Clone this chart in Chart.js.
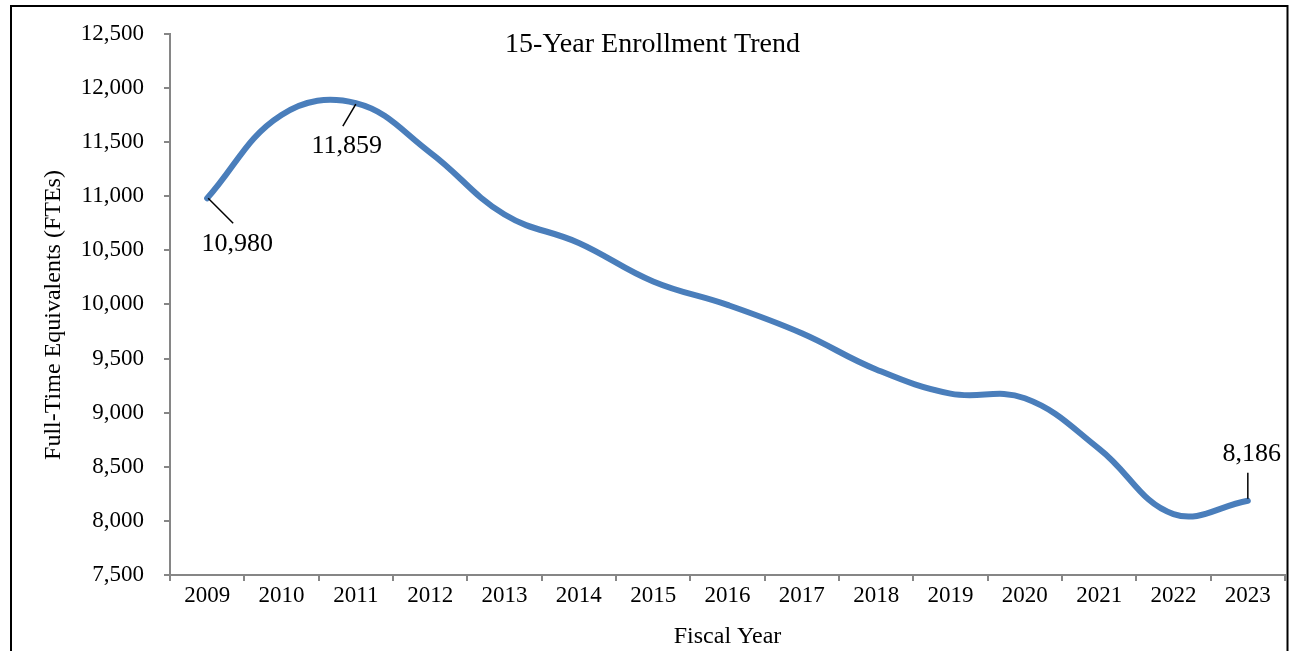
<!DOCTYPE html>
<html>
<head>
<meta charset="utf-8">
<script src="https://cdn.jsdelivr.net/npm/chart.js@4.4.1/dist/chart.umd.min.js"></script>
<style>
html,body{margin:0;padding:0;background:#fff;overflow:hidden}
#wrap{width:1291px;height:651px;position:relative}
canvas{display:block}
</style>
</head>
<body>
<div id="wrap"><canvas id="c" width="1291" height="651"></canvas></div>
<script>
// ---- data ----
const years = ['2009','2010','2011','2012','2013','2014','2015','2016','2017','2018','2019','2020','2021','2022','2023'];
const fte = [10980, 11750, 11859, 11403, 10830, 10568, 10212, 9995, 9733, 9399, 9176, 9133, 8666, 8063, 8186];
const yTicks = [7500, 8000, 8500, 9000, 9500, 10000, 10500, 11000, 11500, 12000, 12500];
const labeledIdx = [0, 2, 14];
const chartTitle = '15-Year Enrollment Trend';
const xTitle = 'Fiscal Year';
const yTitle = 'Full-Time Equivalents (FTEs)';

// ---- styles ----
const FONT = "'Liberation Serif', 'Times New Roman', serif";
const AXIS_GRAY = '#868686';
const LINE_BLUE = '#4A7EBB';
// leader line [x1,y1,x2,y2] and label center [dx,dy], relative to the data point (pixels)
const labelLayout = {
  0:  {line: [1, 0, 26, 25],  text: [30, 46]},
  2:  {line: [0, 1, -13, 23], text: [-9, 43]},
  14: {line: [0, -2, 0, -28], text: [4, -47]}
};
const fmt = v => Number(v).toLocaleString('en-US');

Chart.defaults.font.family = FONT;
Chart.defaults.color = '#000';

const decorPlugin = {
  id: 'decor',
  afterDatasetsDraw(chart) {
    const ctx = chart.ctx;
    const meta = chart.getDatasetMeta(0);
    ctx.save();
    ctx.strokeStyle = '#000';
    ctx.lineWidth = 1.5;
    ctx.fillStyle = '#000';
    ctx.font = '26px ' + FONT;
    ctx.textAlign = 'center';
    ctx.textBaseline = 'middle';
    labeledIdx.forEach(i => {
      const p = meta.data[i];
      const L = labelLayout[i];
      ctx.beginPath();
      ctx.moveTo(p.x + L.line[0], p.y + L.line[1]);
      ctx.lineTo(p.x + L.line[2], p.y + L.line[3]);
      ctx.stroke();
      ctx.fillText(fmt(fte[i]), p.x + L.text[0], p.y + L.text[1]);
    });
    ctx.restore();
  },
  afterDraw(chart) {
    const ctx = chart.ctx;
    ctx.save();
    // chart title
    ctx.fillStyle = '#000';
    ctx.font = '28px ' + FONT;
    ctx.textAlign = 'center';
    ctx.textBaseline = 'alphabetic';
    ctx.fillText(chartTitle, 652.5, 52);
    // y axis title
    ctx.font = '24px ' + FONT;
    ctx.textBaseline = 'middle';
    ctx.translate(54, 315);
    ctx.rotate(-Math.PI / 2);
    ctx.fillText(yTitle, 0, 0);
    ctx.restore();
    // outer border
    ctx.save();
    ctx.strokeStyle = '#000';
    ctx.lineWidth = 2;
    ctx.strokeRect(11, 6, 1276.5, 720);
    ctx.restore();
  }
};

new Chart(document.getElementById('c'), {
  type: 'line',
  data: {
    labels: years,
    datasets: [{
      data: fte,
      borderColor: LINE_BLUE,
      backgroundColor: LINE_BLUE,
      borderWidth: 6,
      borderCapStyle: 'round',
      borderJoinStyle: 'round',
      pointRadius: 0,
      pointHoverRadius: 0,
      tension: 0.4,
      fill: false
    }]
  },
  options: {
    responsive: false,
    animation: false,
    devicePixelRatio: 1,
    layout: {padding: {left: 12, right: 6, top: 33, bottom: 0}},
    plugins: {legend: {display: false}, tooltip: {enabled: false}, title: {display: false}},
    scales: {
      x: {
        type: 'category',
        offset: true,
        grid: {display: true, offset: true, drawOnChartArea: false, drawTicks: true, tickLength: 6, color: AXIS_GRAY, lineWidth: 2},
        border: {display: true, color: AXIS_GRAY, width: 2},
        ticks: {font: {size: 23, family: FONT}, color: '#000', padding: 1, maxRotation: 0, autoSkip: false},
        title: {display: true, text: xTitle, font: {size: 24, family: FONT}, color: '#000', padding: {top: 0, bottom: 0}},
        afterFit(s) { s.height = 76; }
      },
      y: {
        min: 7500,
        max: 12500,
        grid: {display: true, drawOnChartArea: false, drawTicks: true, tickLength: 6, color: AXIS_GRAY, lineWidth: 2},
        border: {display: true, color: AXIS_GRAY, width: 2},
        ticks: {font: {size: 23, family: FONT}, color: '#000', padding: 20, callback: v => fmt(v)},
        afterBuildTicks(s) { s.ticks = yTicks.map(v => ({value: v})); },
        afterFit(s) { s.width = 158; }
      }
    }
  },
  plugins: [decorPlugin]
});
</script>
</body>
</html>
